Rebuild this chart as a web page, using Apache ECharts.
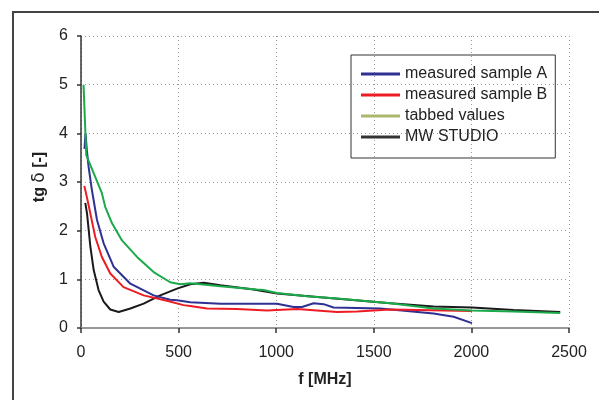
<!DOCTYPE html>
<html>
<head>
<meta charset="utf-8">
<script src="https://cdn.jsdelivr.net/npm/echarts@6/dist/echarts.min.js"></script>
<style>
  html, body { margin: 0; padding: 0; background: #fff; }
  #chart { width: 599px; height: 400px; }
</style>
</head>
<body>
<div id="chart"></div>
<script>
// frequency [MHz], tg delta
const sampleA = [
  [18, 3.68], [23, 4.0], [30, 3.65], [39, 3.31], [56, 2.83], [82, 2.22], [116, 1.74],
  [167, 1.26], [253, 0.91], [372, 0.67], [457, 0.58], [492, 0.57], [560, 0.53],
  [714, 0.5], [1004, 0.5], [1089, 0.43], [1132, 0.43], [1192, 0.51], [1243, 0.49],
  [1294, 0.42], [1533, 0.4], [1806, 0.3], [1909, 0.23], [2003, 0.1]
];
const sampleB = [
  [17, 2.92], [25, 2.88], [35, 2.6], [48, 2.35], [73, 1.87], [107, 1.46], [150, 1.12],
  [218, 0.84], [321, 0.67], [440, 0.56], [525, 0.47], [560, 0.45], [645, 0.4],
  [799, 0.39], [953, 0.36], [1004, 0.37], [1107, 0.39], [1209, 0.36], [1311, 0.33],
  [1414, 0.34], [1585, 0.38], [2003, 0.35]
];
const tabbed = [
  [13, 5.0], [27, 3.55], [65, 3.18], [107, 2.77], [124, 2.49], [159, 2.15], [210, 1.8],
  [287, 1.46], [372, 1.15], [457, 0.94], [509, 0.9], [560, 0.92], [714, 0.86],
  [901, 0.79], [935, 0.78], [1004, 0.72], [1158, 0.65], [1226, 0.63], [1328, 0.6],
  [1585, 0.51], [1806, 0.4], [2003, 0.36], [2216, 0.34], [2455, 0.31]
];
const mwStudio = [
  [22, 2.57], [31, 2.35], [48, 1.67], [65, 1.19], [90, 0.78], [116, 0.54], [150, 0.38],
  [193, 0.33], [253, 0.4], [321, 0.5], [406, 0.67], [492, 0.81], [560, 0.9],
  [628, 0.93], [714, 0.88], [884, 0.79], [1004, 0.71], [1226, 0.63], [1585, 0.51],
  [1806, 0.44], [2003, 0.42], [2216, 0.37], [2455, 0.33]
];
const seriesNames = ["measured sample A", "measured sample B", "tabbed values", "MW STUDIO"];

let myChart = echarts.init(document.getElementById("chart"));
const font = "Liberation Sans, Arial, sans-serif";

const lineSeries = (name, data, color, z) => ({
  name: name,
  type: "line",
  data: data,
  showSymbol: false,
  symbol: "none",
  z: z,
  lineStyle: { color: color, width: 2 },
  itemStyle: { color: color },
});

const option = {
  animation: false,
  textStyle: { fontFamily: font },
  grid: { left: 81, top: 36, width: 488, height: 292 },
  legend: {
    orient: "vertical",
    left: 351,
    top: 55,
    icon: "rect",
    itemWidth: 39,
    itemHeight: 3,
    itemGap: 5,
    padding: [11, 8, 13, 10],
    borderColor: "#333",
    borderWidth: 1,
    textStyle: { fontSize: 16, color: "#222", fontFamily: font, lineHeight: 16 },
    data: [
      { name: seriesNames[0], itemStyle: { color: "#2e3192" } },
      { name: seriesNames[1], itemStyle: { color: "#ed1c24" } },
      { name: seriesNames[2], itemStyle: { color: "#a9b86e" } },
      { name: seriesNames[3], itemStyle: { color: "#333333" } },
    ],
  },
  xAxis: [
    {
      type: "value",
      min: 0,
      max: 2500,
      interval: 500,
      axisLine: { show: true, onZero: false, lineStyle: { color: "#333", width: 1.5 } },
      axisTick: { show: true, length: 5, lineStyle: { color: "#333", width: 1.5 } },
      axisLabel: { fontSize: 16, color: "#222", margin: 17, formatter: (v) => String(v) },
      splitLine: { show: true, lineStyle: { color: "#999", type: [1, 3], width: 1 } },
    },
    {
      type: "value",
      position: "top",
      min: 0,
      max: 2500,
      axisLine: { show: true, lineStyle: { color: "#aaa", width: 1.5 } },
      axisTick: { show: false },
      axisLabel: { show: false },
      splitLine: { show: false },
    },
  ],
  yAxis: {
    type: "value",
    min: 0,
    max: 6,
    interval: 1,
    axisLine: { show: true, lineStyle: { color: "#333", width: 1.5 } },
    axisTick: { show: true, length: 4, lineStyle: { color: "#333", width: 1.5 } },
    axisLabel: { fontSize: 16, color: "#222", margin: 13 },
    splitLine: { show: true, lineStyle: { color: "#999", type: [1, 3], width: 1 } },
  },
  graphic: [
    {
      type: "rect",
      shape: { x: 13, y: 12, width: 700, height: 500 },
      style: { fill: "none", stroke: "#444", lineWidth: 2 },
      silent: true,
    },
    {
      type: "text",
      x: 40,
      y: 177,
      rotation: Math.PI / 2,
      style: {
        text: "{b|tg }{d|δ}{b| [-]}",
        align: "center",
        verticalAlign: "middle",
        rich: {
          b: { fontSize: 16, fontWeight: "bold", fill: "#222", fontFamily: font },
          d: { fontSize: 17, fill: "#222", fontFamily: "DejaVu Sans, sans-serif" },
        },
      },
    },
    {
      type: "text",
      x: 325,
      y: 380,
      style: {
        text: "f [MHz]",
        align: "center",
        verticalAlign: "middle",
        fontSize: 16,
        fontWeight: "bold",
        fill: "#222",
        fontFamily: font,
      },
    },
  ],
  series: [
    lineSeries(seriesNames[3], mwStudio, "#1a1a1a", 2),
    lineSeries(seriesNames[0], sampleA, "#2e3192", 3),
    lineSeries(seriesNames[1], sampleB, "#ed1c24", 4),
    lineSeries(seriesNames[2], tabbed, "#1aaa4a", 5),
  ],
};
myChart.setOption(option, true);

window.addEventListener("resize", () => {
  myChart.resize();
});
</script>
</body>
</html>
